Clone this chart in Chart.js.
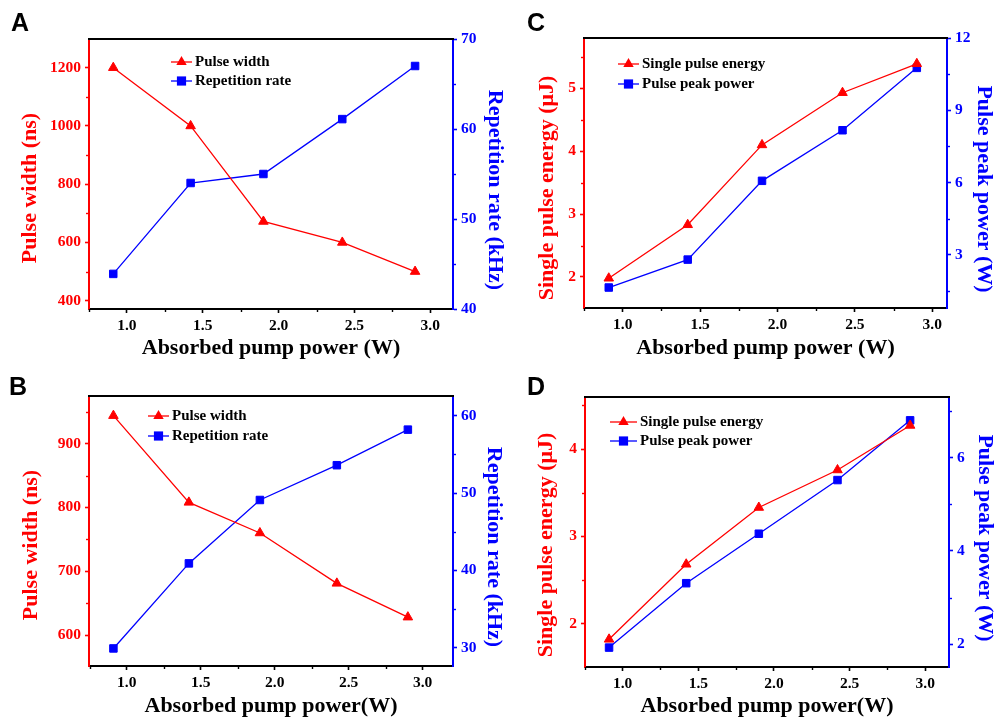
<!DOCTYPE html>
<html>
<head>
<meta charset="utf-8">
<title>Pulse characteristics vs absorbed pump power</title>
<script src="https://cdn.jsdelivr.net/npm/chart.js@4.4.1/dist/chart.umd.min.js"></script>
<style>
    body { margin: 0; background: #fff; }
    #figure { position: relative; width: 997px; height: 722px; overflow: hidden; background: #fff; }
    #figure canvas { position: absolute; }
    .tag { position: absolute; font: bold 25px 'Liberation Sans', Arial, sans-serif; color: #000; line-height: 1; }
</style>
</head>
<body>
<div id="figure">
    <canvas id="chart-a" width="505" height="362" style="left:0;top:0"></canvas>
    <canvas id="chart-c" width="492" height="362" style="left:505px;top:0"></canvas>
    <canvas id="chart-b" width="505" height="360" style="left:0;top:362px"></canvas>
    <canvas id="chart-d" width="492" height="360" style="left:505px;top:362px"></canvas>
    <div class="tag" style="left:11px;top:10px">A</div>
    <div class="tag" style="left:527px;top:10px">C</div>
    <div class="tag" style="left:9px;top:374px">B</div>
    <div class="tag" style="left:527px;top:374px">D</div>
</div>
<script>
// --- Data ---
const pumpPower = [0.91, 1.42, 1.90, 2.42, 2.90];
const pumpTicks = [1.0, 1.5, 2.0, 2.5, 3.0];
const pumpMinorTicks = [0.75, 1.25, 1.75, 2.25, 2.75];

// A
const pulseWidthA = [1200, 1000, 672, 600, 500];
const repRateA = [43.9, 54.0, 55.0, 61.1, 67.0];
const pulseWidthTicksA = [400, 600, 800, 1000, 1200];
const pulseWidthMinorA = [500, 700, 900, 1100];
const repRateTicksA = [40, 50, 60, 70];
const repRateMinorA = [45, 55, 65];

// B
const pulseWidthB = [944, 808, 760, 681, 628];
const repRateB = [29.9, 40.9, 49.1, 53.6, 58.2];
const pulseWidthTicksB = [600, 700, 800, 900];
const pulseWidthMinorB = [650, 750, 850, 950];
const repRateTicksB = [30, 40, 50, 60];
const repRateMinorB = [35, 45, 55];

// C
const energyC = [1.98, 2.83, 4.10, 4.93, 5.39];
const peakPowerC = [1.64, 2.80, 6.07, 8.17, 10.76];
const energyTicksC = [2, 3, 4, 5];
const energyMinorC = [2.5, 3.5, 4.5, 5.5];
const peakPowerTicksC = [3, 6, 9, 12];
const peakPowerMinorC = [1.5, 4.5, 7.5, 10.5];

// D
const energyD = [1.82, 2.68, 3.33, 3.76, 4.27];
const peakPowerD = [1.93, 3.31, 4.37, 5.52, 6.80];
const energyTicksD = [2, 3, 4];
const energyMinorD = [2.5, 3.5, 4.5];
const peakPowerTicksD = [2, 4, 6];
const peakPowerMinorD = [3, 5, 7];

const RED = '#ff0000';
const BLUE = '#0000ff';
const SERIF = "'Liberation Serif', 'Times New Roman', serif";
const TICK_SIZE = 15.5;

// --- Panel layout ---
const panels = [
    {
        canvas: 'chart-a', plot: { left: 89, top: 39, right: 453, bottom: 309 },
        xRange: [0.75, 3.15], xTitle: 'Absorbed pump power (W)', xTitlePad: 0,
        left: { title: 'Pulse width (ns)', label: 'Pulse width', data: pulseWidthA, range: [371.5, 1298.5], ticks: pulseWidthTicksA, minor: pulseWidthMinorA, titleX: 30, titleY: 188 },
        right: { title: 'Repetition rate (kHz)', label: 'Repetition rate', data: repRateA, range: [40, 70], ticks: repRateTicksA, minor: repRateMinorA, titleX: 495, titleY: 190 },
        legend: { x: 171, y: 62, len: 21, gap: 19 }
    },
    {
        canvas: 'chart-b', plot: { left: 89, top: 34, right: 453, bottom: 304 },
        xRange: [0.745, 3.205], xTitle: 'Absorbed pump power(W)', xTitlePad: 2,
        left: { title: 'Pulse width (ns)', label: 'Pulse width', data: pulseWidthB, range: [551.4, 974.8], ticks: pulseWidthTicksB, minor: pulseWidthMinorB, titleX: 31, titleY: 183 },
        right: { title: 'Repetition rate (kHz)', label: 'Repetition rate', data: repRateB, range: [27.63, 62.55], ticks: repRateTicksB, minor: repRateMinorB, titleX: 494, titleY: 185 },
        legend: { x: 148, y: 54, len: 21, gap: 20 }
    },
    {
        canvas: 'chart-c', plot: { left: 79, top: 38, right: 442, bottom: 308 },
        xRange: [0.75, 3.095], xTitle: 'Absorbed pump power (W)', xTitlePad: 0,
        left: { title: 'Single pulse energy (\u03bcJ)', label: 'Single pulse energy', data: energyC, range: [1.507, 5.80], ticks: energyTicksC, minor: energyMinorC, titleX: 42, titleY: 188 },
        right: { title: 'Pulse peak power (W)', label: 'Pulse peak power', data: peakPowerC, range: [0.79, 12], ticks: peakPowerTicksC, minor: peakPowerMinorC, titleX: 479, titleY: 189 },
        legend: { x: 113, y: 64, len: 21, gap: 20 }
    },
    {
        canvas: 'chart-d', plot: { left: 80, top: 35, right: 444, bottom: 305 },
        xRange: [0.751, 3.157], xTitle: 'Absorbed pump power(W)', xTitlePad: 2,
        left: { title: 'Single pulse energy (\u03bcJ)', label: 'Single pulse energy', data: energyD, range: [1.503, 4.596], ticks: energyTicksD, minor: energyMinorD, titleX: 41, titleY: 183 },
        right: { title: 'Pulse peak power (W)', label: 'Pulse peak power', data: peakPowerD, range: [1.514, 7.30], ticks: peakPowerTicksD, minor: peakPowerMinorD, titleX: 480, titleY: 176 },
        legend: { x: 105, y: 60, len: 27, gap: 19 }
    }
];

// --- Helpers ---
function drawMarker(ctx, style, x, y, r) {
    ctx.beginPath();
    if (style === 'triangle') {
        ctx.moveTo(x, y - r);
        ctx.lineTo(x + r * 0.866, y + r * 0.5);
        ctx.lineTo(x - r * 0.866, y + r * 0.5);
        ctx.closePath();
    } else {
        const h = r * Math.SQRT1_2;
        ctx.rect(x - h, y - h, 2 * h, 2 * h);
    }
    ctx.fill();
}

function axisOptions(side, spec, color, width) {
    return {
        type: 'linear',
        position: side,
        min: spec.range[0],
        max: spec.range[1],
        afterBuildTicks: scale => { scale.ticks = spec.ticks.map(v => ({ value: v })); },
        afterFit: scale => { scale.width = width; },
        ticks: { color, font: { family: SERIF, size: TICK_SIZE, weight: 'bold' }, padding: 4, autoSkip: false, callback: v => String(v) },
        grid: { drawOnChartArea: false, drawTicks: true, tickLength: 4, tickColor: color, tickWidth: 1.6 },
        border: { color, width: 2 },
        title: { display: false }
    };
}

function buildPanel(p) {
    const canvas = document.getElementById(p.canvas);
    const W = canvas.width, H = canvas.height;

    const series = (spec, color, style, radius, axisId) => ({
        label: spec.label,
        data: spec.data.map((v, i) => ({ x: pumpPower[i], y: v })),
        yAxisID: axisId,
        borderColor: color,
        backgroundColor: color,
        borderWidth: 1.3,
        pointStyle: style,
        pointRadius: radius,
        pointBorderWidth: 1,
        pointBackgroundColor: color,
        pointBorderColor: color,
        tension: 0
    });

    const decorations = {
        id: 'decorations',
        afterDraw(chart) {
            const ctx = chart.ctx;
            const area = chart.chartArea;
            const { x, yLeft, yRight } = chart.scales;
            ctx.save();

            // top frame line
            ctx.strokeStyle = '#000';
            ctx.lineWidth = 2;
            ctx.beginPath();
            ctx.moveTo(area.left - 1, area.top);
            ctx.lineTo(area.right + 1, area.top);
            ctx.stroke();

            // minor ticks
            ctx.lineWidth = 1.4;
            ctx.strokeStyle = '#000';
            pumpMinorTicks.forEach(v => {
                const px = Math.round(x.getPixelForValue(v)) + 0.5;
                ctx.beginPath(); ctx.moveTo(px, area.bottom); ctx.lineTo(px, area.bottom + 3); ctx.stroke();
            });
            ctx.strokeStyle = RED;
            p.left.minor.forEach(v => {
                const py = Math.round(yLeft.getPixelForValue(v)) + 0.5;
                ctx.beginPath(); ctx.moveTo(area.left, py); ctx.lineTo(area.left - 3, py); ctx.stroke();
            });
            ctx.strokeStyle = BLUE;
            p.right.minor.forEach(v => {
                const py = Math.round(yRight.getPixelForValue(v)) + 0.5;
                ctx.beginPath(); ctx.moveTo(area.right, py); ctx.lineTo(area.right + 3, py); ctx.stroke();
            });

            // vertical axis titles
            ctx.font = `bold 22px ${SERIF}`;
            ctx.textAlign = 'center';
            ctx.textBaseline = 'middle';
            [[p.left, -Math.PI / 2, RED], [p.right, Math.PI / 2, BLUE]].forEach(([spec, angle, color]) => {
                ctx.save();
                ctx.translate(spec.titleX, spec.titleY);
                ctx.rotate(angle);
                ctx.fillStyle = color;
                ctx.fillText(spec.title, 0, 0);
                ctx.restore();
            });

            // legend inside plot
            const lg = p.legend;
            ctx.font = `bold 15px ${SERIF}`;
            ctx.textAlign = 'left';
            chart.data.datasets.forEach((ds, i) => {
                const y = lg.y + i * lg.gap;
                ctx.strokeStyle = ds.borderColor;
                ctx.lineWidth = 1.3;
                ctx.beginPath(); ctx.moveTo(lg.x, y); ctx.lineTo(lg.x + lg.len, y); ctx.stroke();
                ctx.fillStyle = ds.backgroundColor;
                drawMarker(ctx, ds.pointStyle, lg.x + lg.len / 2, y, ds.pointStyle === 'triangle' ? 6 : 6.5);
                ctx.fillStyle = '#000';
                ctx.fillText(ds.label, lg.x + lg.len + 3, y);
            });

            ctx.restore();
        }
    };

    return new Chart(canvas, {
        type: 'line',
        data: {
            datasets: [
                series(p.left, RED, 'triangle', 5.5, 'yLeft'),
                series(p.right, BLUE, 'rect', 5.3, 'yRight')
            ]
        },
        options: {
            responsive: false,
            animation: false,
            events: [],
            clip: false,
            layout: { padding: { top: p.plot.top, left: 0, right: 0, bottom: 0 } },
            plugins: { legend: { display: false }, tooltip: { enabled: false } },
            scales: {
                x: {
                    type: 'linear',
                    position: 'bottom',
                    min: p.xRange[0],
                    max: p.xRange[1],
                    afterBuildTicks: scale => { scale.ticks = pumpTicks.map(v => ({ value: v })); },
                    afterFit: scale => { scale.height = H - p.plot.bottom; },
                    ticks: { color: '#000', font: { family: SERIF, size: TICK_SIZE, weight: 'bold' }, padding: 4, maxRotation: 0, autoSkip: false, callback: v => v.toFixed(1) },
                    grid: { drawOnChartArea: false, drawTicks: true, tickLength: 4, tickColor: '#000', tickWidth: 1.6 },
                    border: { color: '#000', width: 2 },
                    title: { display: true, text: p.xTitle, color: '#000', font: { family: SERIF, size: 22, weight: 'bold', lineHeight: 1.2 }, padding: { top: 0, bottom: p.xTitlePad } }
                },
                yLeft: axisOptions('left', p.left, RED, p.plot.left),
                yRight: axisOptions('right', p.right, BLUE, W - p.plot.right)
            }
        },
        plugins: [decorations]
    });
}

panels.forEach(buildPanel);
</script>
</body>
</html>
